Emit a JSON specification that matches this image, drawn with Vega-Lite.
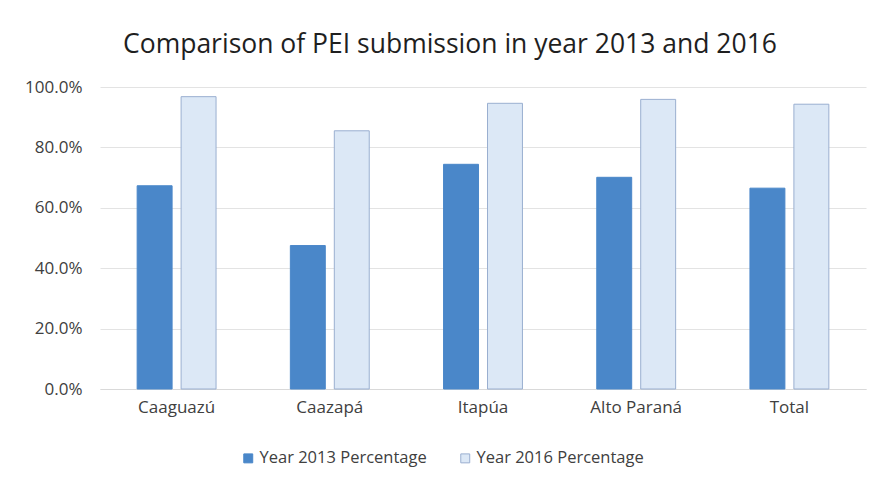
{
  "$schema": "https://vega.github.io/schema/vega-lite/v6.json",
  "width": 766,
  "height": 302,
  "autosize": {"type": "none"},
  "padding": {"left": 100, "top": 87, "right": 11, "bottom": 99},
  "background": "white",
  "title": {
    "text": "Comparison of PEI submission in year 2013 and 2016",
    "font": "Open Sans",
    "fontSize": 26.5,
    "fontWeight": "normal",
    "color": "#1f1f1f",
    "anchor": "middle",
    "dx": -33,
    "offset": 20
  },
  "data": {
    "values": [
      {"region": "Caaguazú", "series": "Year 2013 Percentage", "value": 0.673},
      {"region": "Caaguazú", "series": "Year 2016 Percentage", "value": 0.968},
      {"region": "Caazapá", "series": "Year 2013 Percentage", "value": 0.475},
      {"region": "Caazapá", "series": "Year 2016 Percentage", "value": 0.855},
      {"region": "Itapúa", "series": "Year 2013 Percentage", "value": 0.744},
      {"region": "Itapúa", "series": "Year 2016 Percentage", "value": 0.946},
      {"region": "Alto Paraná", "series": "Year 2013 Percentage", "value": 0.701},
      {"region": "Alto Paraná", "series": "Year 2016 Percentage", "value": 0.959},
      {"region": "Total", "series": "Year 2013 Percentage", "value": 0.665},
      {"region": "Total", "series": "Year 2016 Percentage", "value": 0.943}
    ]
  },
  "mark": {"type": "bar", "strokeWidth": 1},
  "encoding": {
    "x": {
      "field": "region",
      "type": "nominal",
      "sort": null,
      "scale": {"paddingInner": 0.485, "paddingOuter": 0.2425},
      "axis": {
        "title": null,
        "labelAngle": 0,
        "labelFont": "Open Sans",
        "labelFontSize": 17,
        "labelColor": "#404040",
        "labelPadding": 10,
        "ticks": false,
        "domainColor": "#D9D9D9",
        "grid": false
      }
    },
    "xOffset": {
      "field": "series",
      "type": "nominal",
      "scale": {"paddingInner": 0.205, "paddingOuter": 0}
    },
    "y": {
      "field": "value",
      "type": "quantitative",
      "scale": {"domain": [0, 1], "nice": false},
      "axis": {
        "title": null,
        "format": ".1%",
        "values": [0, 0.2, 0.4, 0.6, 0.8, 1.0],
        "labelFont": "Open Sans",
        "labelFontSize": 17,
        "labelColor": "#404040",
        "labelPadding": 18,
        "ticks": false,
        "domain": false,
        "gridColor": "#E3E3E3",
        "gridWidth": 1
      }
    },
    "fill": {
      "field": "series",
      "type": "nominal",
      "scale": {"range": ["#4A87C9", "#DCE8F6"]},
      "legend": {
        "title": null,
        "orient": "none",
        "legendX": 140,
        "legendY": 363,
        "direction": "horizontal",
        "symbolType": "square",
        "symbolSize": 80,
        "symbolStrokeWidth": 1,
        "labelFont": "Open Sans",
        "labelFontSize": 16.5,
        "labelLimit": 400,
        "labelColor": "#404040",
        "columnPadding": 30,
        "labelOffset": 3
      }
    },
    "stroke": {
      "field": "series",
      "type": "nominal",
      "scale": {"range": ["#4A87C9", "#9AAFD0"]},
      "legend": null
    }
  },
  "config": {
    "view": {"stroke": null}
  }
}
